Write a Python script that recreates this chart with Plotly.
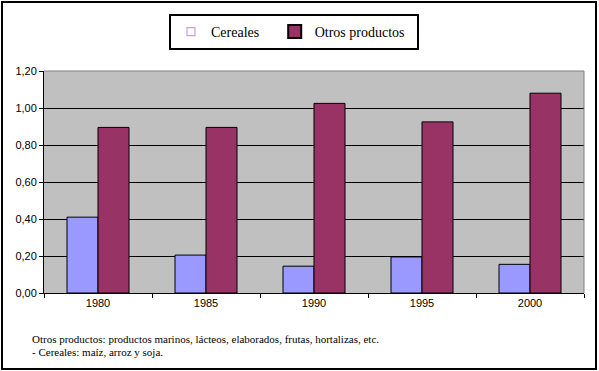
import plotly.graph_objects as go

years = ["1980", "1985", "1990", "1995", "2000"]
cereales = [0.41, 0.205, 0.145, 0.195, 0.155]
otros = [0.895, 0.895, 1.025, 0.925, 1.08]
ytick_vals = [0.0, 0.2, 0.4, 0.6, 0.8, 1.0, 1.2]
nota1 = "Otros productos: productos marinos, lácteos, elaborados, frutas, hortalizas, etc."
nota2 = "- Cereales: maíz, arroz y soja."

W, H = 599, 371
L, R, T, B = 44, 15, 71, 78
pw, ph = W - L - R, H - T - B

def px(x):
    return (x - L) / pw

def py(y):
    return (H - B - y) / ph

SERIF = "Liberation Serif, Times New Roman, serif"

fig = go.Figure()
fig.add_trace(go.Bar(name="Cereales", x=years, y=cereales, showlegend=False,
                     marker=dict(color="#9999FF", line=dict(color="black", width=1))))
fig.add_trace(go.Bar(name="Otros productos", x=years, y=otros, showlegend=False,
                     marker=dict(color="#993366", line=dict(color="black", width=1))))
# legend-only entries
fig.add_trace(go.Scatter(name="Cereales   ", x=[None], y=[None], mode="markers",
                         marker=dict(symbol="square-open", size=8, color="#CC99FF",
                                     line=dict(width=1.2, color="#CC99FF"))))
fig.add_trace(go.Scatter(name="Otros productos  ", x=[None], y=[None], mode="markers",
                         marker=dict(symbol="square", size=13, color="#993366",
                                     line=dict(width=2, color="black"))))

fig.update_layout(
    width=W, height=H,
    margin=dict(l=L, r=R, t=T, b=B, pad=0),
    paper_bgcolor="white",
    plot_bgcolor="#C0C0C0",
    barmode="group",
    bargap=0.426,
    bargroupgap=0,
    separators=",.",
    font=dict(family="Arial, Liberation Sans", size=11, color="black"),
    showlegend=True,
    legend=dict(orientation="h", x=px(294), xanchor="center", y=py(14), yanchor="top",
                font=dict(family=SERIF, size=14),
                bordercolor="black", borderwidth=2, bgcolor="white",
                itemwidth=30, tracegroupgap=0,
                traceorder="normal"),
    xaxis=dict(showgrid=False, showline=True, linecolor="black", linewidth=1,
               ticks="outside", ticklen=4, tickcolor="black",
               tickson="boundaries", tickfont=dict(size=11), mirror=False),
    yaxis=dict(range=[0, 1.2], tickvals=ytick_vals, tickformat=".2f",
               showgrid=True, gridcolor="black", gridwidth=1,
               showline=True, linecolor="black", linewidth=1,
               ticks="outside", ticklen=4, tickcolor="black",
               tickfont=dict(size=11), zeroline=False),
    shapes=[
        dict(type="rect", xref="paper", yref="paper",
             x0=px(2), x1=px(596), y0=py(2), y1=py(369),
             line=dict(color="black", width=2), layer="below"),
        dict(type="line", xref="paper", yref="paper",
             x0=0, x1=1, y0=1, y1=1, line=dict(color="#808080", width=1)),
        dict(type="line", xref="paper", yref="paper",
             x0=1, x1=1, y0=0, y1=1, line=dict(color="#808080", width=1)),
    ],
    annotations=[
        dict(text=nota1, xref="paper", yref="paper", x=px(30), y=py(339),
             xanchor="left", yanchor="middle", showarrow=False,
             font=dict(family=SERIF, size=11)),
        dict(text=nota2, xref="paper", yref="paper", x=px(30), y=py(352),
             xanchor="left", yanchor="middle", showarrow=False,
             font=dict(family=SERIF, size=11)),
    ],
)

fig.write_html("out.html", config={"displayModeBar": False},
               post_script="document.body.style.margin='0';document.body.style.overflow='hidden';")
